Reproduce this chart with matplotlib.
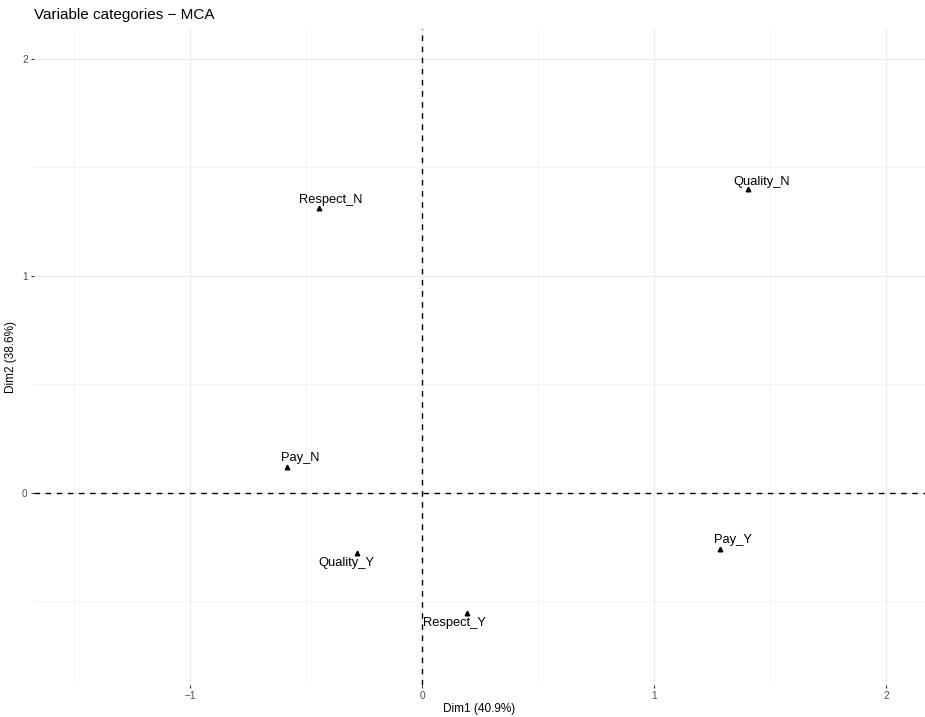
import matplotlib
matplotlib.use("Agg")
import matplotlib.pyplot as plt
import numpy as np

plt.rcParams['font.family'] = ['Liberation Sans', 'DejaVu Sans']

# MCA variable category coordinates
categories = ["Respect_N", "Quality_N", "Pay_N", "Quality_Y", "Pay_Y", "Respect_Y"]
dim1 = [-0.444, 1.406, -0.580, -0.281, 1.284, 0.193]
dim2 = [1.312, 1.400, 0.118, -0.277, -0.256, -0.555]
# label offsets (points) from each category marker
label_dx = [8.6, 9.4, 9.1, -7.5, 9.6, -9.1]
label_dy = [5.8, 5.5, 6.5, -7.2, 5.8, -7.2]

xticks = [-1, 0, 1, 2]
yticks = [0, 1, 2]
xminor = [-1.5, -0.5, 0.5, 1.5]
yminor = [-0.5, 0.5, 1.5]

fig = plt.figure(figsize=(9.25, 7.17), dpi=100)
ax = fig.add_axes([34 / 925, 32 / 717, 1 - 34 / 925, (685 - 29) / 717])

ax.set_xlim(-1.672, 2.168)
ax.set_ylim(-0.885, 2.138)

for v in xticks:
    ax.axvline(v, color='#ebebeb', lw=0.9, zorder=0)
for v in xminor:
    ax.axvline(v, color='#f2f2f2', lw=0.6, zorder=0)
for v in yticks:
    ax.axhline(v, color='#ebebeb', lw=0.9, zorder=0)
for v in yminor:
    ax.axhline(v, color='#f2f2f2', lw=0.6, zorder=0)

ax.axhline(0, color='black', lw=1.0, ls=(0, (4, 4)), zorder=1)
ax.axvline(0, color='black', lw=1.0, ls=(0, (4, 4)), zorder=1)

ax.plot(dim1, dim2, ls='none', marker='^', color='black', markersize=3.3, zorder=3)
for name, x, y, dx, dy in zip(categories, dim1, dim2, label_dx, label_dy):
    ax.annotate(name, (x, y), xytext=(dx, dy), textcoords='offset points',
                ha='center', va='center', fontsize=9.3, color='black')

for s in ax.spines.values():
    s.set_visible(False)
ax.set_xticks(xticks)
ax.set_yticks(yticks)
ax.set_xticklabels([u"\u22121", "0", "1", "2"])
ax.set_yticklabels(["0", "1", "2"])
ax.tick_params(axis='both', length=2.5, width=0.8, color='#333333',
               labelsize=7.2, labelcolor='#4d4d4d', pad=2)

ax.set_xlabel("Dim1 (40.9%)", fontsize=8.5, color='black', labelpad=1.5)
ax.set_ylabel("Dim2 (38.6%)", fontsize=8.5, color='black', labelpad=4)
fig.text(34 / 925, 1 - 15 / 717, u"Variable categories \u2212 MCA", fontsize=11,
         va='center', ha='left', color='black')

fig.savefig("out.png", dpi=100)
